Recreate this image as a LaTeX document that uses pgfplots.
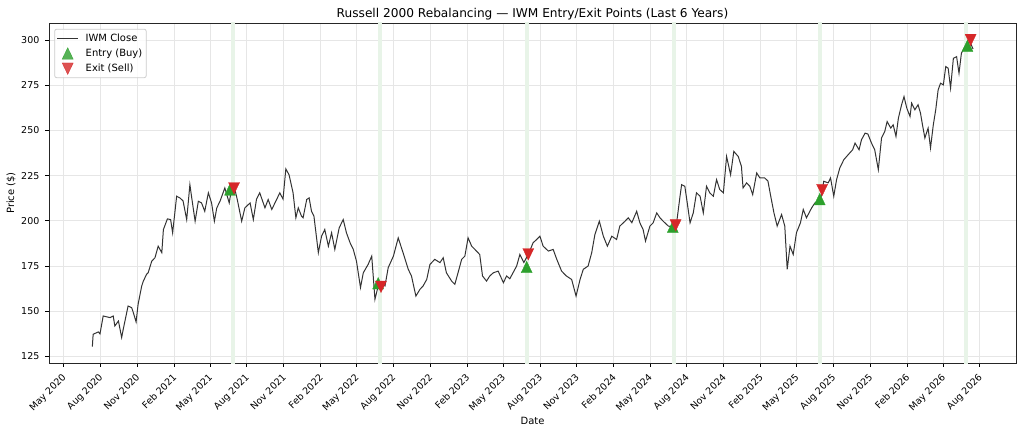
\documentclass[border=0pt]{standalone}
\usepackage{pgfplots}
\pgfplotsset{compat=1.18}
\usepackage{fontspec}
\setmainfont{DejaVu Sans}
\definecolor{entrygreen}{HTML}{2CA02C}
\definecolor{exitred}{HTML}{D62728}
\definecolor{bandgreen}{rgb}{0.91,0.955,0.91}
\definecolor{gridgray}{HTML}{E6E6E6}
\definecolor{linegray}{HTML}{333333}
\definecolor{legframe}{HTML}{CCCCCC}

\pgfplotsset{
  lineleg/.style={legend image code/.code={\draw[##1] (0bp,0bp) -- (21bp,0bp);}},
  markleg/.style={legend image code/.code={\draw[##1] plot coordinates {(10.5bp,0bp)};}},
}

% x = days since 1 May 2020
\pgfplotstableread{
day price
72 130.5
74 137.3
87 138.6
91 137.5
99 147.4
116 146.5
124 147.4
128 141.9
137 144.6
145 135.5
149 140.1
161 152.9
170 152.0
174 149.3
181 144.1
186 153.9
195 164.0
199 166.7
207 170.4
211 171.3
220 177.7
228 179.6
236 186.0
245 182.4
249 195.2
259 201.1
267 200.7
272 193.4
282 213.6
290 212.7
298 211.0
307 200.7
315 220.0
319 213.6
328 199.8
336 210.8
344 209.9
352 205.3
361 215.5
369 209.9
376 199.8
382 207.2
390 210.8
402 218.2
413 209.9
419 218.2
427 217.5
433 211.8
444 199.8
452 207.2
465 209.9
473 200.7
481 212.0
489 215.5
502 207.2
510 211.8
519 206.3
531 211.8
539 215.5
547 212.0
554 228.7
562 225.5
572 215.5
579 201.7
585 207.2
593 202.6
597 201.7
606 211.8
612 212.7
618 205.3
624 202.6
635 182.4
643 191.5
651 195.2
660 186.0
668 193.4
676 184.2
687 196.2
697 200.7
705 193.4
714 187.9
722 184.2
730 177.7
740 163.1
747 171.3
759 175.9
768 180.5
776 156.6
782 162.1
786 166.0
793 165.8
801 164.0
809 174.1
822 180.5
834 190.6
846 182.4
859 173.2
867 169.5
878 158.4
888 162.1
896 164.0
905 167.6
913 175.9
925 178.7
938 176.9
946 179.6
954 171.3
967 166.7
975 164.9
983 171.3
992 178.7
1000 180.5
1008 190.6
1017 186.0
1025 184.2
1037 181.4
1044 169.5
1054 166.7
1062 169.5
1071 171.3
1083 172.2
1096 165.8
1104 169.5
1112 168.0
1120 171.3
1129 175.0
1137 181.4
1147 177.0
1158 181.4
1170 187.9
1179 189.7
1187 191.5
1195 186.0
1208 183.3
1220 184.2
1229 178.7
1241 172.2
1253 169.5
1266 167.6
1277 158.4
1287 167.6
1295 173.2
1307 175.0
1316 182.4
1324 192.5
1335 199.8
1345 191.5
1355 186.0
1366 191.5
1378 189.7
1386 197.1
1399 199.8
1407 201.7
1416 199.0
1428 205.3
1436 198.9
1444 195.2
1450 188.8
1461 197.1
1469 198.9
1478 204.4
1486 201.7
1494 199.8
1507 197.1
1519 196.7
1527 198.0
1536 213.6
1540 220.0
1548 219.1
1554 209.9
1561 198.9
1569 204.4
1577 215.5
1586 213.6
1594 204.4
1602 219.1
1610 215.5
1619 213.6
1627 222.8
1635 217.3
1644 215.5
1652 235.6
1662 225.5
1670 238.4
1681 235.6
1689 230.1
1693 218.2
1702 221.0
1710 219.1
1717 214.5
1727 226.5
1735 223.7
1747 223.7
1755 222.0
1762 213.6
1770 204.4
1778 197.1
1789 203.5
1797 197.1
1803 173.2
1810 186.0
1818 181.4
1826 193.4
1836 198.9
1843 206.3
1851 201.7
1864 207.2
1872 209.9
1886 211.8
1894 221.9
1905 221.0
1911 223.7
1919 213.6
1926 222.8
1934 229.2
1944 233.8
1955 236.6
1966 239.3
1972 243.0
1982 239.3
1988 244.8
1997 248.5
2004 248.0
2013 243.0
2021 239.3
2030 228.3
2038 245.8
2046 249.4
2052 254.9
2061 251.3
2067 253.1
2074 246.7
2080 256.8
2088 264.2
2094 268.7
2101 262.3
2109 257.7
2113 265.1
2121 261.4
2129 264.2
2135 259.6
2140 253.1
2146 245.8
2154 251.3
2160 240.3
2167 253.1
2173 261.4
2179 272.4
2185 276.1
2192 275.2
2198 285.3
2204 284.4
2210 273.4
2217 289.9
2225 290.8
2231 281.6
2237 292.7
2246 296.3
2258 299.1
2266 295.0
}\iwm

\pgfplotstableread{
day price
415 217.3
784 165.5
1154 174.5
1518 196.7
1884 212.0
2252 296.8
}\entries

\pgfplotstableread{
day price
425 218.0
791 163.5
1158 181.5
1525 197.5
1890 217.0
2260 300.0
}\exits

\begin{document}
\begin{tikzpicture}
\useasboundingbox (-49bp,-72bp) rectangle (975bp,363bp);
\begin{axis}[
  at={(0,0)}, anchor=south west,
  scale only axis, width=967bp, height=340bp,
  xmin=-36, xmax=2373, ymin=121.4, ymax=309.4,
  xtick={0,92,184,276,365,457,549,641,730,822,914,1006,1095,1187,1279,1371,1461,1553,1645,1737,1826,1918,2010,2102,2191,2283},
  xticklabels={May 2020,Aug 2020,Nov 2020,Feb 2021,May 2021,Aug 2021,Nov 2021,Feb 2022,May 2022,Aug 2022,Nov 2022,Feb 2023,May 2023,Aug 2023,Nov 2023,Feb 2024,May 2024,Aug 2024,Nov 2024,Feb 2025,May 2025,Aug 2025,Nov 2025,Feb 2026,May 2026,Aug 2026},
  ytick={125,150,175,200,225,250,275,300},
  grid=major,
  major grid style={gridgray, line width=0.8bp},
  axis line style={black!85, line width=0.8bp},
  tick style={black, line width=0.8bp},
  major tick length=3.5bp,
  tick align=outside,
  tick pos=left,
  /pgf/number format/assume math mode=true,
  ticklabel style={font=\fontsize{9.5}{11}\selectfont},
  xticklabel style={rotate=45, anchor=north east, inner sep=0pt, xshift=-6bp, yshift=-3bp},
  yticklabel style={inner sep=0pt, xshift=-6bp},
  title={Russell 2000 Rebalancing — IWM Entry/Exit Points (Last 6 Years)},
  title style={font=\fontsize{12.2}{14}\selectfont, at={(axis description cs:0.5,1)}, anchor=center, yshift=3bp},
  xlabel={Date},
  xlabel style={font=\fontsize{10}{12}\selectfont, at={(axis description cs:0.5,0)}, anchor=center, yshift=-58bp},
  ylabel={Price (\$)},
  ylabel style={font=\fontsize{10}{12}\selectfont, at={(axis description cs:0,0.5)}, anchor=center, yshift=38bp},
  legend cell align=left,
  legend style={at={(axis description cs:0.0055,0.983)}, anchor=north west,
    draw=legframe, line width=0.8bp, rounded corners=2bp, fill=white, fill opacity=0.8, text opacity=1,
    font=\fontsize{10}{12}\selectfont, inner xsep=2bp, inner ysep=2.5bp, row sep=2.2bp,
    /tikz/every odd column/.append style={column sep=5bp}},
]
% rebalancing windows
\addplot[forget plot, draw=none, fill=bandgreen] coordinates {(417,100) (417,400) (427,400) (427,100)} -- cycle;
\addplot[forget plot, draw=none, fill=bandgreen] coordinates {(783,100) (783,400) (793,400) (793,100)} -- cycle;
\addplot[forget plot, draw=none, fill=bandgreen] coordinates {(1151,100) (1151,400) (1160,400) (1160,100)} -- cycle;
\addplot[forget plot, draw=none, fill=bandgreen] coordinates {(1516,100) (1516,400) (1525,400) (1525,100)} -- cycle;
\addplot[forget plot, draw=none, fill=bandgreen] coordinates {(1880,100) (1880,400) (1890,400) (1890,100)} -- cycle;
\addplot[forget plot, draw=none, fill=bandgreen] coordinates {(2244,100) (2244,400) (2254,400) (2254,100)} -- cycle;

\addplot[linegray, line width=1bp, no marks, lineleg] table[x=day, y=price] {\iwm};
\addlegendentry{IWM Close}

\addplot[only marks, mark=triangle*, mark size=6.4bp,
  mark options={fill=entrygreen, draw=entrygreen, line width=0.3bp, yscale=1.2, yshift=-1.6bp},
  markleg] table[x=day, y=price] {\entries};
\addlegendentry{Entry (Buy)}

\addplot[only marks, mark=triangle*, mark size=6.4bp,
  mark options={fill=exitred, draw=exitred, line width=0.3bp, rotate=180, yscale=1.2, yshift=-1.6bp},
  markleg] table[x=day, y=price] {\exits};
\addlegendentry{Exit (Sell)}
\end{axis}
\end{tikzpicture}
\end{document}
